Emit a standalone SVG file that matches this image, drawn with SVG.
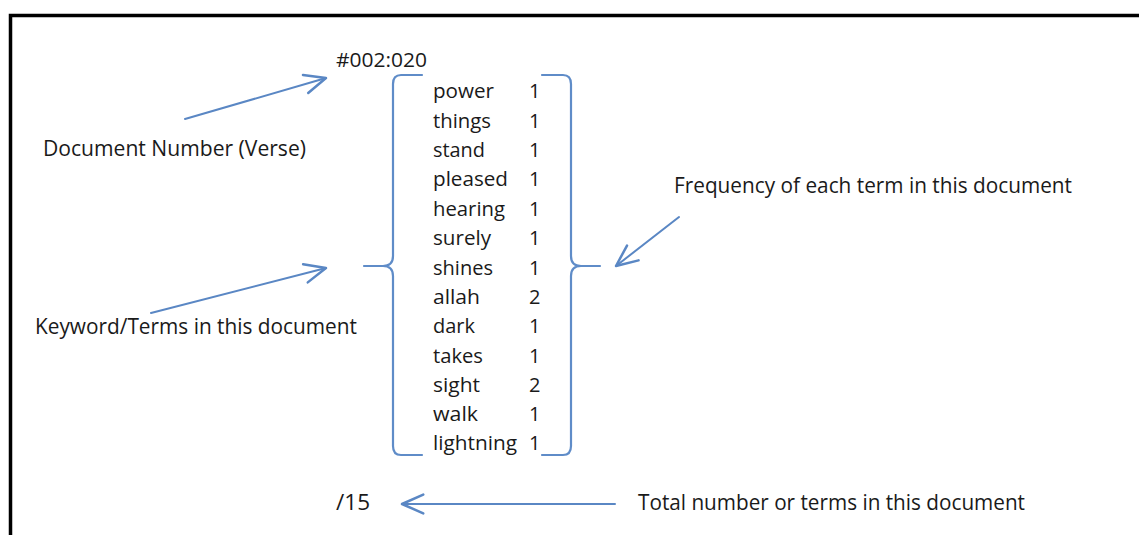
<svg xmlns="http://www.w3.org/2000/svg" width="1139" height="535" viewBox="0 0 1139 535">
  <style>
    .txt { font-family: "Open Sans", "Liberation Sans", sans-serif; fill: #1a1a1a; }
    .lbl { font-size: 21px; }
    .term { font-size: 20px; }
    .link { fill: none; stroke: #5a87c4; stroke-width: 2; stroke-linecap: round; }
    .brace { fill: none; stroke: #5f8cc8; stroke-width: 2.2; stroke-linecap: round; stroke-linejoin: round; }
  </style>
  <defs>
    <marker id="openArrow" markerUnits="userSpaceOnUse" markerWidth="30" markerHeight="30" viewBox="-20 -10 24 20" refX="0" refY="0" orient="auto">
      <path d="M-17,-7.5 L0,0 L-17,7.5" fill="none" stroke="#5a87c4" stroke-width="2" stroke-linecap="round" stroke-linejoin="round"/>
    </marker>
  </defs>

  <rect x="0" y="0" width="1139" height="535" fill="#ffffff"/>

  <!-- outer frame (open on the right and bottom) -->
  <path d="M10.5,560 L10.5,15.5 L1160,15.5" fill="none" stroke="#000000" stroke-width="3.5"/>

  <!-- connectors -->
  <g id="connectors">
    <line class="link" x1="185" y1="119" x2="326" y2="78" marker-end="url(#openArrow)"/>
    <line class="link" x1="151" y1="313" x2="326" y2="268" marker-end="url(#openArrow)"/>
    <line class="link" x1="679" y1="217" x2="616" y2="266" marker-end="url(#openArrow)"/>
    <line class="link" x1="615" y1="504" x2="402" y2="504" marker-end="url(#openArrow)"/>
  </g>

  <!-- document id -->
  <g id="doc-number">
    <text class="txt lbl" x="336" y="67" textLength="91" lengthAdjust="spacingAndGlyphs" style="font-size:20px">#002:020</text>
  </g>

  <!-- term list bracketed on both sides -->
  <g id="term-list">
    <path class="brace" d="M422,75 L401,75 Q393,75 393,84 L393,256 Q393,266 383,266 L364,266 M383,266 Q393,266 393,276 L393,446 Q393,455 401,455 L422,455"/>
    <path class="brace" d="M542,75 L563,75 Q571,75 571,84 L571,256 Q571,266 581,266 L600,266 M581,266 Q571,266 571,276 L571,446 Q571,455 563,455 L542,455"/>
    <g class="txt term">
      <text x="433" y="98" textLength="61" lengthAdjust="spacingAndGlyphs">power</text>
      <text x="433" y="127.5" textLength="58" lengthAdjust="spacingAndGlyphs">things</text>
      <text x="433" y="157" textLength="52" lengthAdjust="spacingAndGlyphs">stand</text>
      <text x="433" y="186" textLength="75" lengthAdjust="spacingAndGlyphs">pleased</text>
      <text x="433" y="215.5" textLength="72" lengthAdjust="spacingAndGlyphs">hearing</text>
      <text x="433" y="245" textLength="58" lengthAdjust="spacingAndGlyphs">surely</text>
      <text x="433" y="274.5" textLength="60" lengthAdjust="spacingAndGlyphs">shines</text>
      <text x="433" y="304" textLength="47" lengthAdjust="spacingAndGlyphs">allah</text>
      <text x="433" y="333" textLength="42" lengthAdjust="spacingAndGlyphs">dark</text>
      <text x="433" y="362.5" textLength="50" lengthAdjust="spacingAndGlyphs">takes</text>
      <text x="433" y="392" textLength="47" lengthAdjust="spacingAndGlyphs">sight</text>
      <text x="433" y="421" textLength="45" lengthAdjust="spacingAndGlyphs">walk</text>
      <text x="433" y="450" textLength="84" lengthAdjust="spacingAndGlyphs">lightning</text>
    </g>
    <g class="txt term">
      <text x="529" y="98">1</text>
      <text x="529" y="127.5">1</text>
      <text x="529" y="157">1</text>
      <text x="529" y="186">1</text>
      <text x="529" y="215.5">1</text>
      <text x="529" y="245">1</text>
      <text x="529" y="274.5">1</text>
      <text x="529" y="304">2</text>
      <text x="529" y="333">1</text>
      <text x="529" y="362.5">1</text>
      <text x="529" y="392">2</text>
      <text x="529" y="421">1</text>
      <text x="529" y="450">1</text>
    </g>
  </g>

  <!-- total count -->
  <g id="total">
    <text class="txt lbl" x="336" y="510" textLength="34" lengthAdjust="spacingAndGlyphs">/15</text>
  </g>

  <!-- explanatory labels -->
  <g id="label-doc-number">
    <text class="txt lbl" x="43" y="156" textLength="263" lengthAdjust="spacingAndGlyphs">Document Number (Verse)</text>
  </g>
  <g id="label-keywords">
    <text class="txt lbl" x="35" y="334" textLength="322" lengthAdjust="spacingAndGlyphs">Keyword/Terms in this document</text>
  </g>
  <g id="label-frequency">
    <text class="txt lbl" x="674" y="193" textLength="398" lengthAdjust="spacingAndGlyphs">Frequency of each term in this document</text>
  </g>
  <g id="label-total">
    <text class="txt lbl" x="638" y="510" textLength="387" lengthAdjust="spacingAndGlyphs">Total number or terms in this document</text>
  </g>
</svg>
